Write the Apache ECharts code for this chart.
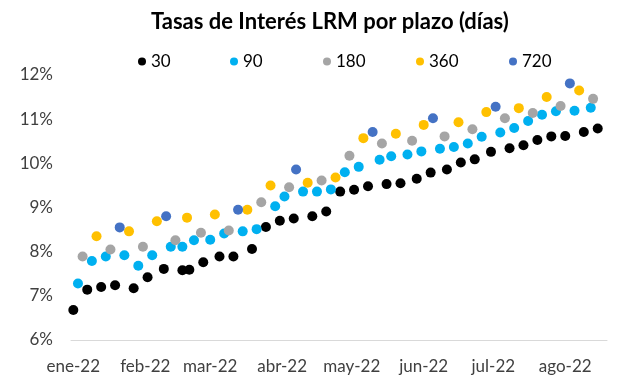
<!DOCTYPE html>
<html>
<head>
<meta charset="utf-8">
<script src="https://cdn.jsdelivr.net/npm/echarts@6/dist/echarts.min.js"></script>
<style>html,body{margin:0;padding:0;background:#fff}#c{width:617px;height:388px}</style>
</head>
<body>
<div id="c"></div>
<script>
var seriesNames = ['30', '90', '180', '360', '720'];
var seriesColors = ['#000000', '#00B0F0', '#A5A5A5', '#FFC000', '#4472C4'];

var dates30 = ['2022-01-04','2022-01-10','2022-01-16','2022-01-22','2022-01-30','2022-02-05','2022-02-12','2022-02-20','2022-02-23','2022-03-01','2022-03-08','2022-03-14','2022-03-22','2022-03-28','2022-04-03','2022-04-09','2022-04-17','2022-04-23','2022-04-29','2022-05-05','2022-05-11','2022-05-19','2022-05-25','2022-06-01','2022-06-07','2022-06-14','2022-06-20','2022-06-26','2022-07-03','2022-07-11','2022-07-17','2022-07-23','2022-07-29','2022-08-04','2022-08-12','2022-08-18'];
var values30 = [6.68,7.14,7.20,7.24,7.17,7.42,7.61,7.58,7.59,7.76,7.89,7.89,8.06,8.56,8.70,8.75,8.80,8.91,9.36,9.40,9.48,9.53,9.55,9.65,9.79,9.86,10.02,10.09,10.26,10.34,10.41,10.53,10.61,10.62,10.71,10.79];

var dates90 = ['2022-01-06','2022-01-12','2022-01-18','2022-01-26','2022-02-01','2022-02-07','2022-02-15','2022-02-20','2022-02-25','2022-03-04','2022-03-10','2022-03-18','2022-03-24','2022-04-01','2022-04-05','2022-04-13','2022-04-19','2022-04-25','2022-05-01','2022-05-07','2022-05-16','2022-05-21','2022-05-28','2022-06-03','2022-06-11','2022-06-17','2022-06-23','2022-06-29','2022-07-07','2022-07-13','2022-07-19','2022-07-25','2022-07-31','2022-08-08','2022-08-15'];
var values90 = [7.28,7.79,7.89,7.92,7.68,7.92,8.11,8.11,8.26,8.27,8.41,8.46,8.51,9.03,9.25,9.36,9.36,9.41,9.80,9.92,10.08,10.16,10.20,10.27,10.33,10.37,10.45,10.60,10.70,10.80,10.96,11.10,11.18,11.19,11.26];

var dates180 = ['2022-01-08','2022-01-20','2022-02-03','2022-02-17','2022-02-28','2022-03-12','2022-03-26','2022-04-07','2022-04-21','2022-05-03','2022-05-17','2022-05-30','2022-06-13','2022-06-25','2022-07-09','2022-07-21','2022-08-02','2022-08-16'];
var values180 = [7.89,8.05,8.11,8.26,8.43,8.48,9.12,9.46,9.61,10.17,10.45,10.51,10.61,10.77,11.02,11.14,11.30,11.46];

var dates360 = ['2022-01-14','2022-01-28','2022-02-09','2022-02-22','2022-03-06','2022-03-20','2022-03-30','2022-04-15','2022-04-27','2022-05-09','2022-05-23','2022-06-04','2022-06-19','2022-07-01','2022-07-15','2022-07-27','2022-08-10'];
var values360 = [8.35,8.46,8.69,8.77,8.84,8.95,9.50,9.56,9.68,10.57,10.67,10.87,10.93,11.16,11.25,11.50,11.65];

var dates720 = ['2022-01-24','2022-02-13','2022-03-16','2022-04-10','2022-05-13','2022-06-08','2022-07-05','2022-08-06'];
var values720 = [8.55,8.80,8.95,9.86,10.71,11.02,11.28,11.81];

var tickDates = ['2022-01-04','2022-02-04','2022-03-04','2022-04-04','2022-05-04','2022-06-04','2022-07-04','2022-08-04'];
var tickLabels = ['ene-22','feb-22','mar-22','abr-22','may-22','jun-22','jul-22','ago-22'];

var yTicks = [6, 7, 8, 9, 10, 11, 12];

function parseUTC(s) {
  var p = s.split('-');
  return Date.UTC(+p[0], +p[1] - 1, +p[2]);
}
function pairs(d, v) {
  return d.map(function (x, i) { return [parseUTC(x), v[i]]; });
}
var allDates = [dates30, dates90, dates180, dates360, dates720];
var allValues = [values30, values90, values180, values360, values720];
var tickTimes = tickDates.map(parseUTC);

var font = 'Lato, "Open Sans", sans-serif';
var legendLefts = [133, 225, 318, 411, 504];

var chart = echarts.init(document.getElementById('c'), null, { renderer: 'canvas' });
chart.setOption({
  animation: false,
  backgroundColor: '#ffffff',
  title: {
    text: 'Tasas de Interés LRM por plazo (días)',
    left: 146, top: 6,
    textStyle: { fontFamily: font, fontSize: 22, fontWeight: 'bold', color: '#000000' }
  },
  legend: seriesNames.map(function (n, i) {
    return {
      data: [n],
      left: legendLefts[i], top: 48,
      icon: 'circle', itemWidth: 8, itemHeight: 8, itemGap: 6,
      textStyle: { fontFamily: font, fontSize: 17, color: '#000000' }
    };
  }),
  grid: { left: 71, right: 10, top: 75, bottom: 48, containLabel: false },
  xAxis: {
    type: 'value',
    min: parseUTC('2022-01-03'),
    max: parseUTC('2022-08-22'),
    axisLine: { show: true, lineStyle: { color: '#D9D9D9', width: 1 } },
    axisTick: { show: false },
    splitLine: { show: false },
    axisLabel: {
      customValues: tickTimes,
      margin: 18,
      fontFamily: font, fontSize: 17, color: '#404040',
      hideOverlap: false,
      formatter: function (val) {
        var best = 0, bd = Infinity;
        tickTimes.forEach(function (t, k) { var d = Math.abs(t - val); if (d < bd) { bd = d; best = k; } });
        return tickLabels[best];
      }
    }
  },
  yAxis: {
    type: 'value',
    min: yTicks[0], max: yTicks[yTicks.length - 1], interval: 1,
    axisLine: { show: false },
    axisTick: { show: false },
    splitLine: { show: false },
    axisLabel: {
      margin: 18,
      fontFamily: font, fontSize: 17, color: '#404040',
      formatter: function (v) { return v + '%'; }
    }
  },
  series: seriesNames.map(function (n, i) {
    return {
      name: n,
      type: 'scatter',
      data: pairs(allDates[i], allValues[i]),
      symbol: 'circle',
      symbolSize: 10,
      itemStyle: { color: seriesColors[i], opacity: 1 },
      z: 2 + i
    };
  })
});
</script>
</body>
</html>
